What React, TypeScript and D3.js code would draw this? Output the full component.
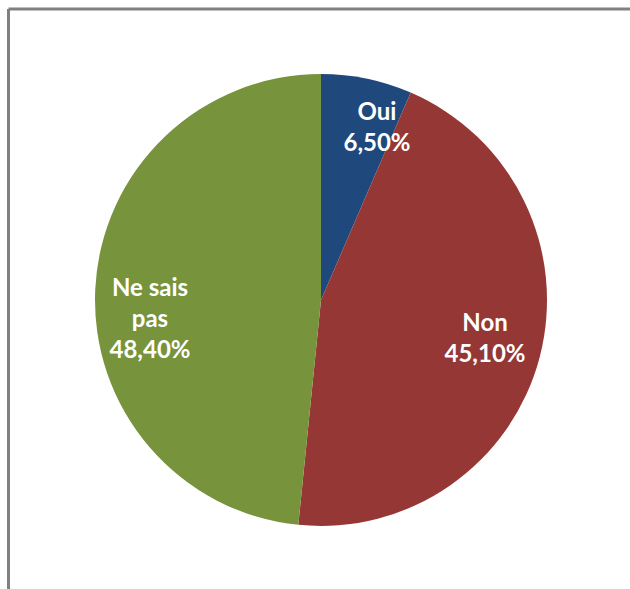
import React from "react";
import * as d3 from "d3";

const categories = ["Oui", "Non", "Ne sais pas"];
const values = [6.5, 45.1, 48.4];
const valueLabels = ["6,50%", "45,10%", "48,40%"];
const labelLines = [["Oui"], ["Non"], ["Ne sais", "pas"]];
const colors = ["#1F497D", "#953735", "#77933C"];

export default function App() {
  const W = 630, H = 589;
  const cx = 321, cy = 300, r = 226;
  const pie = d3.pie<number>().sort(null).value((d) => d)(values);
  const arc = d3.arc<d3.PieArcDatum<number>>().innerRadius(0).outerRadius(r);
  const labelPos = [
    [377, 126],
    [485, 337],
    [150, 317],
  ];
  const lh = 31;
  return (
    <svg width={W} height={H} style={{ position: "absolute", left: 0, top: 0 }}>
      <rect width={W} height={H} fill="#fff" />
      <line x1={8.5} y1={9} x2={W} y2={9} stroke="#808080" strokeWidth={3} />
      <line x1={8.5} y1={9} x2={8.5} y2={H} stroke="#808080" strokeWidth={3} />
      <g transform={`translate(${cx},${cy})`}>
        {pie.map((p, i) => (
          <path key={categories[i]} d={arc(p) || ""} fill={colors[i]} />
        ))}
      </g>
      {pie.map((p, i) => {
        const lines = [...labelLines[i], valueLabels[i]];
        const [x, y] = labelPos[i];
        const y0 = y - ((lines.length - 1) * lh) / 2;
        return (
          <text
            key={i}
            x={x}
            textAnchor="middle"
            fill="#fff"
            fontFamily="Lato, 'Open Sans', sans-serif"
            fontWeight="bold"
            fontSize={24}
          >
            {lines.map((l, j) => (
              <tspan key={j} x={x} y={y0 + j * lh} dominantBaseline="central">
                {l}
              </tspan>
            ))}
          </text>
        );
      })}
    </svg>
  );
}
